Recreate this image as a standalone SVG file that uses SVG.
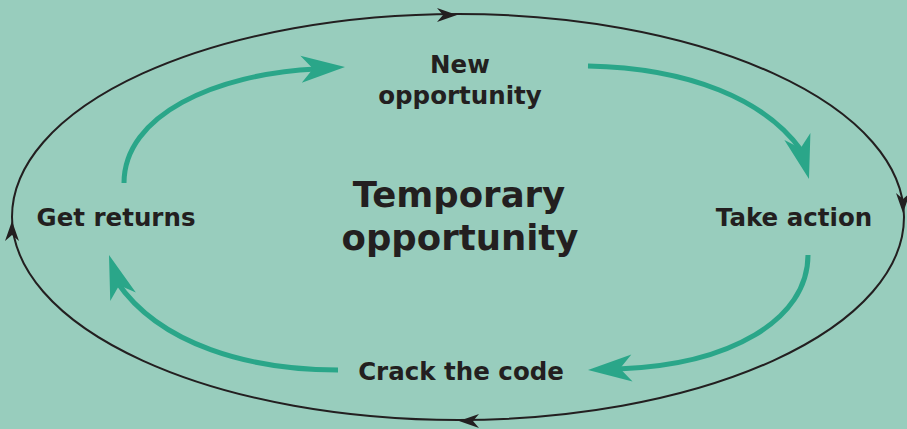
<svg xmlns="http://www.w3.org/2000/svg" xmlns:xlink="http://www.w3.org/1999/xlink" width="907" height="429" viewBox="0 0 907 429">
<style>
.bg{fill:#98cdbd}
.ring{fill:none;stroke:#231f20;stroke-width:2}
.shaft{fill:none;stroke:#2aa689;stroke-width:5}
.teal{fill:#2aa689}
.blk{fill:#231f20}
.lbl{font-family:"DejaVu Sans",sans-serif;font-weight:700;font-size:24.5px;fill:#231f20;text-anchor:middle}
.big{font-family:"DejaVu Sans",sans-serif;font-weight:700;font-size:35.5px;fill:#231f20;text-anchor:middle}
</style>
<defs>
<path id="th" d="M0,0 L-44,-13.5 L-32,0 L-44,13.5 Z"/>
<path id="bh" d="M0,0 L-20,-7 L-14,0 L-20,7 Z"/>
</defs>
<rect class="bg" x="0" y="0" width="907" height="429"/>
<g id="connectors">
<ellipse class="ring" cx="458" cy="217" rx="446" ry="203"/>
<use href="#bh" class="blk" transform="translate(457,15)"/>
<use href="#bh" class="blk" transform="translate(903,213) rotate(90)"/>
<use href="#bh" class="blk" transform="translate(459,421) rotate(180)"/>
<use href="#bh" class="blk" transform="translate(12,221) rotate(-90)"/>
<path class="shaft" d="M124,183 C124,115 215,74 316,69"/>
<use href="#th" class="teal" transform="translate(345,67) rotate(-3)"/>
<path class="shaft" d="M588,66 C690,68 765,100 801,150"/>
<use href="#th" class="teal" transform="translate(809,179) rotate(74.7)"/>
<path class="shaft" d="M808,255 C808,320 730,365 618,369"/>
<use href="#th" class="teal" transform="translate(588,370) rotate(177.5)"/>
<path class="shaft" d="M338,370 C250,370 160,345 117,282"/>
<use href="#th" class="teal" transform="translate(109,255) rotate(-108.6)"/>
</g>
<g id="center"><text class="big" x="459" y="207">Temporary</text><text class="big" x="460" y="250">opportunity</text></g>
<g id="new"><text class="lbl" x="460" y="73">New</text><text class="lbl" x="460" y="104">opportunity</text></g>
<g id="take"><text class="lbl" x="794" y="226">Take action</text></g>
<g id="crack"><text class="lbl" x="461" y="380">Crack the code</text></g>
<g id="get"><text class="lbl" x="116" y="226">Get returns</text></g>
</svg>
